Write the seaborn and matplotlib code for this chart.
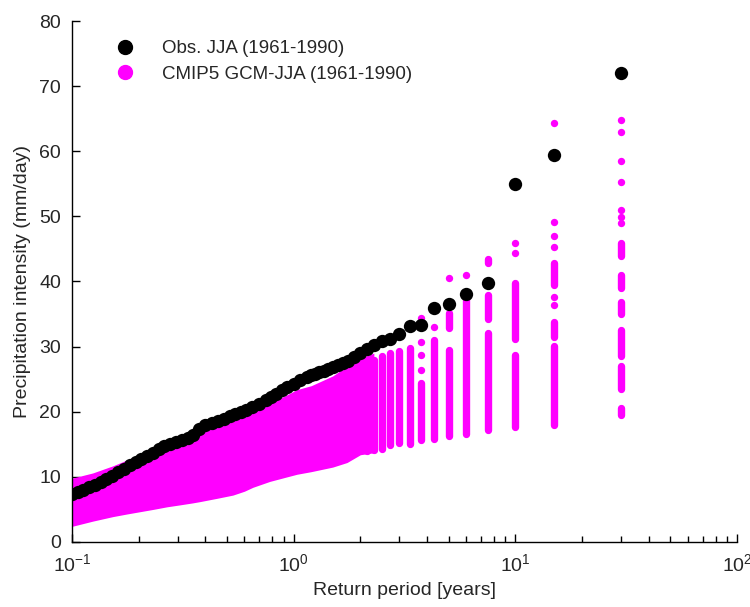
import matplotlib
matplotlib.use('Agg')
import matplotlib.pyplot as plt
from matplotlib.lines import Line2D
import seaborn as sns
import pandas as pd

# observed JJA return levels (return period in years, mm/day)
obs_T = [30, 15, 10, 7.5, 6, 5, 4.286, 3.75, 3.333, 3.0, 2.727, 2.5, 2.308, 2.143,
         2.0, 1.875, 1.765, 1.667, 1.579, 1.5, 1.429, 1.364, 1.304, 1.25, 1.2, 1.154,
         1.071, 1.0, 0.9375, 0.882, 0.833, 0.789, 0.75, 0.698, 0.652, 0.612, 0.577,
         0.545, 0.517, 0.484, 0.455, 0.429, 0.4, 0.375, 0.353, 0.333, 0.3125, 0.294,
         0.278, 0.261, 0.246, 0.231, 0.217, 0.205, 0.194, 0.182, 0.171, 0.161, 0.152,
         0.143, 0.135, 0.127, 0.119, 0.112, 0.106, 0.1]
obs_val = [72.0, 59.4, 55.0, 39.7, 38.1, 36.6, 36.0, 33.3, 33.2, 31.9, 31.2, 30.8, 30.3, 29.6,
           29.0, 28.4, 27.8, 27.5, 27.2, 26.9, 26.6, 26.3, 26.1, 25.8, 25.6, 25.3,
           24.8, 24.2, 23.8, 23.3, 22.8, 22.3, 21.8, 21.2, 20.7, 20.3, 20.0,
           19.7, 19.3, 18.9, 18.6, 18.3, 17.9, 17.3, 16.4, 16.0, 15.7, 15.4,
           15.1, 14.7, 14.3, 13.7, 13.2, 12.7, 12.3, 11.8, 11.2, 10.7, 10.2,
           9.7, 9.2, 8.8, 8.4, 8.0, 7.7, 7.4]

# CMIP5 GCMs: isolated points at the long return periods
gcm_pt_T = [30, 30, 30, 30, 30, 30, 30,
            15, 15, 15, 15, 15, 15,
            10, 10, 6, 5, 4.286, 3.75, 3.75, 3.75, 3.75]
gcm_pt_val = [64.8, 62.9, 58.5, 55.3, 51.0, 49.9, 49.0,
              64.4, 49.2, 47.0, 45.3, 37.6, 36.4,
              45.9, 44.4, 41.0, 40.6, 33.0, 34.4, 30.7, 28.7, 26.4]

# CMIP5 GCMs: runs of overlapping points (return period, lower, upper)
seg_T = [30, 30, 30, 30, 30, 30,
         15, 15, 15,
         10, 10,
         7.5, 7.5, 7.5,
         6, 5, 5, 4.286, 3.75, 3.333, 3.0, 2.727, 2.5, 2.308, 2.143]
seg_lo = [43.9, 39.0, 35.0, 28.6, 23.5, 19.5,
          39.5, 31.5, 18.0,
          31.1, 17.7,
          42.9, 34.3, 17.2,
          16.6, 32.8, 16.2, 15.8, 15.6, 15.1, 15.2, 14.9, 14.3, 14.2, 14.0]
seg_hi = [45.9, 41.0, 36.8, 32.5, 27.1, 20.5,
          42.8, 33.8, 30.1,
          39.7, 28.7,
          43.4, 37.9, 32.1,
          37.1, 35.1, 29.5, 31.0, 24.4, 29.8, 29.3, 29.0, 28.5, 28.0, 27.8]

# CMIP5 GCMs: envelope of the dense cloud at short return periods
band_T = [0.1, 0.124, 0.153, 0.177, 0.232, 0.268, 0.307, 0.35, 0.378, 0.45, 0.532,
          0.6, 0.655, 0.78, 0.933, 1.035, 1.2, 1.5, 1.74, 2.0, 2.3]
band_lo = [2.4, 3.2, 3.9, 4.3, 5.0, 5.4, 5.7, 6.0, 6.2, 6.7, 7.2,
           7.8, 8.4, 9.3, 10.0, 10.4, 10.8, 11.5, 12.2, 13.4, 13.7]
band_hi = [9.8, 10.6, 11.7, 12.6, 14.3, 15.2, 15.6, 16.0, 16.6, 17.8, 18.6,
           19.3, 20.0, 21.3, 22.6, 23.4, 24.0, 25.5, 27.0, 28.3, 29.0]

obs = pd.DataFrame({'T': obs_T, 'val': obs_val})
gcm = pd.DataFrame({'T': gcm_pt_T, 'val': gcm_pt_val})

sns.set_theme(style='ticks')
plt.rcParams['font.family'] = ['Liberation Sans', 'DejaVu Sans']
plt.rcParams['mathtext.fontset'] = 'custom'
plt.rcParams['mathtext.rm'] = 'Liberation Sans'

mag = '#ff00ff'
txt = '#262626'

fig = plt.figure(figsize=(7.5, 6.07), dpi=100)
ax = fig.add_axes([0.096, 0.1071, 0.8867, 0.8583])

ax.fill_between(band_T, band_lo, band_hi, color=mag, lw=0)
ax.vlines(seg_T, seg_lo, seg_hi, colors=mag, linewidth=5.3, capstyle='round')
sns.scatterplot(data=gcm, x='T', y='val', ax=ax, color=mag, s=28, linewidth=0)
sns.scatterplot(data=obs, x='T', y='val', ax=ax, color='black', s=92, linewidth=0,
                zorder=5)

ax.set_xscale('log')
ax.set_xlim(0.1, 100)
ax.set_ylim(0, 80)
ax.set_yticks(range(0, 81, 10))
sns.despine(ax=ax)
for s in ['left', 'bottom']:
    ax.spines[s].set_color('black')
    ax.spines[s].set_linewidth(1.0)
ax.tick_params(axis='both', which='major', direction='in', length=6, width=1,
               colors='black', labelcolor=txt, labelsize=14, pad=8)
ax.tick_params(axis='x', which='minor', direction='in', length=4, width=1, colors='black')
ax.tick_params(axis='y', which='minor', left=False)

ax.set_xlabel('Return period [years]', fontsize=14, color=txt, labelpad=5)
ax.set_ylabel('Precipitation intensity (mm/day)', fontsize=14, color=txt, labelpad=6)

handles = [Line2D([], [], ls='none', marker='o', color='black', markersize=10),
           Line2D([], [], ls='none', marker='o', color=mag, markersize=10)]
ax.legend(handles, ['Obs. JJA (1961-1990)', 'CMIP5 GCM-JJA (1961-1990)'],
          loc='upper left', bbox_to_anchor=(0.0656, 0.963), frameon=False,
          fontsize=13.5, handlelength=1.0, handletextpad=1.47, labelspacing=0.45,
          borderpad=0, borderaxespad=0, labelcolor=txt)

fig.savefig('out.png', dpi=100)
